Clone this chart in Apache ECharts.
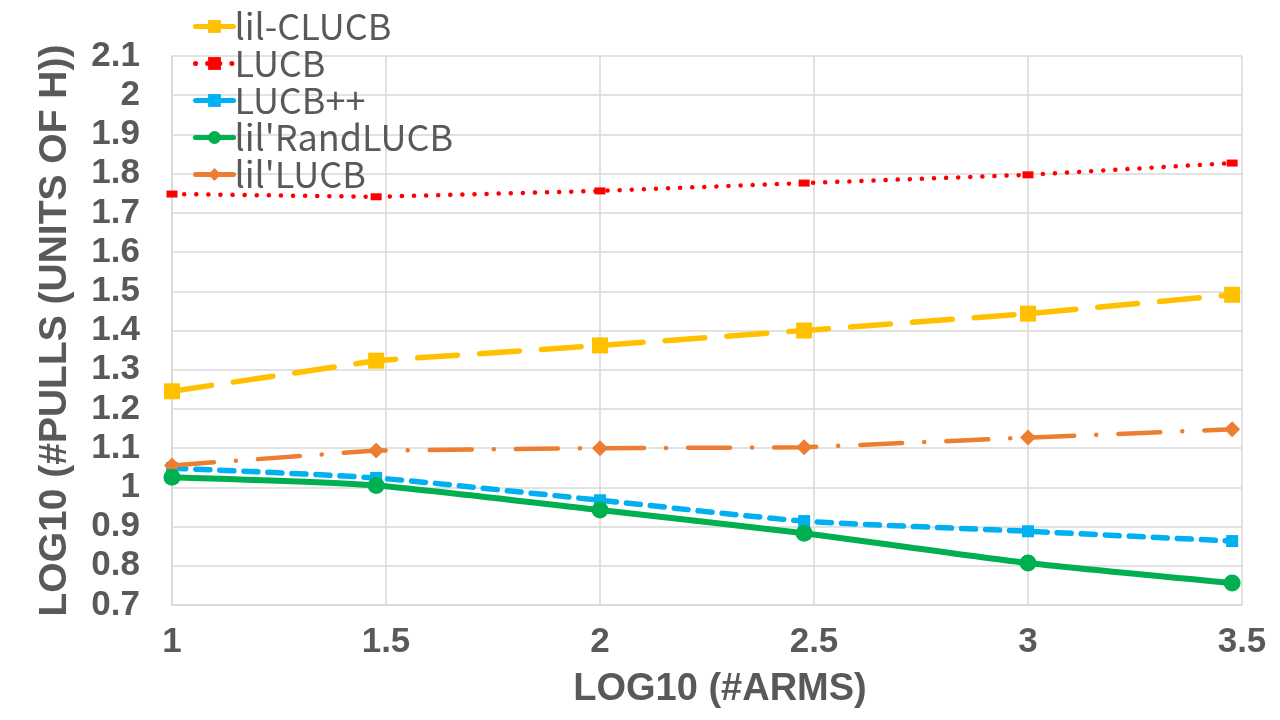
<!DOCTYPE html>
<html>
<head>
<meta charset="utf-8">
<script src="https://cdn.jsdelivr.net/npm/echarts@6/dist/echarts.min.js"></script>
<style>
	html, body { margin: 0; padding: 0; background: #fff; }
	#chart { width: 1280px; height: 720px; }
</style>
</head>
<body>
<div id="chart"></div>
<script>
	// log10 of the number of arms
	var armsLog = [1, 1.477, 2, 2.477, 3, 3.477];

	// log10 of pulls, one array per algorithm
	var lilCLUCB = [1.245, 1.323, 1.362, 1.400, 1.443, 1.491];
	var lucb = [1.748, 1.741, 1.756, 1.776, 1.797, 1.827];
	var lucbPP = [1.049, 1.024, 0.967, 0.914, 0.888, 0.863];
	var lilRandLUCB = [1.026, 1.005, 0.942, 0.883, 0.807, 0.756];
	var lilLUCB = [1.056, 1.094, 1.100, 1.102, 1.127, 1.148];

	var seriesNames = ['lil-CLUCB', 'LUCB', 'LUCB++', "lil'RandLUCB", "lil'LUCB"];

	function pairs(ys) {
		var out = [];
		for (var i = 0; i < armsLog.length; i++) {
			out.push([armsLog[i], ys[i]]);
		}
		return out;
	}

	var textColor = '#595959';
	var gridColor = '#d9d9d9';

	// legend entries: solid thick line, except the dotted LUCB
	var legendData = [];
	for (var k = 0; k < seriesNames.length; k++) {
		legendData.push({
			name: seriesNames[k],
			lineStyle: { width: 5, type: k == 1 ? [0.1, 12] : 'solid', cap: 'round' }
		});
	}

	var chart = echarts.init(document.getElementById('chart'));

	var option = {
		animation: false,
		grid: {
			left: 172,
			right: 38,
			top: 56,
			bottom: 115,
			outerBoundsMode: 'none'
		},
		legend: {
			orient: 'vertical',
			left: 188,
			top: 3,
			itemGap: 0,
			itemWidth: 38,
			itemHeight: 16,
			textStyle: {
				fontFamily: 'Noto Sans CJK SC',
				fontSize: 36,
				lineHeight: 37,
				color: textColor,
				padding: [0, 0, 0, -4]
			},
			data: legendData
		},
		xAxis: {
			type: 'value',
			min: 1,
			max: 3.5,
			interval: 0.5,
			name: 'LOG10 (#ARMS)',
			nameLocation: 'middle',
			nameGap: 66,
			nameTextStyle: {
				fontFamily: 'Liberation Sans',
				fontWeight: 'bold',
				fontSize: 38,
				color: textColor,
				padding: [0, 0, 0, 26]
			},
			axisLine: { show: true, lineStyle: { color: gridColor, width: 1.5 } },
			axisTick: { show: false },
			axisLabel: {
				margin: 20,
				fontFamily: 'Liberation Sans',
				fontWeight: 'bold',
				fontSize: 35,
				color: textColor
			},
			splitLine: { show: true, lineStyle: { color: gridColor, width: 1.5 } }
		},
		yAxis: {
			type: 'value',
			min: 0.7,
			max: 2.1,
			interval: 0.1,
			name: 'LOG10 (#PULLS (UNITS OF H))',
			nameLocation: 'middle',
			nameRotate: 90,
			nameGap: 97,
			nameTextStyle: {
				fontFamily: 'Liberation Sans',
				fontWeight: 'bold',
				fontSize: 39,
				color: textColor
			},
			axisLine: { show: true, lineStyle: { color: gridColor, width: 1.5 } },
			axisTick: { show: false },
			axisLabel: {
				margin: 32,
				fontFamily: 'Liberation Sans',
				fontWeight: 'bold',
				fontSize: 35,
				color: textColor,
				formatter: function (v) {
					return String(Math.round(v * 10) / 10);
				}
			},
			splitLine: { show: true, lineStyle: { color: gridColor, width: 1.5 } }
		},
		series: [{
			name: 'lil-CLUCB',
			type: 'line',
			data: pairs(lilCLUCB),
			symbol: 'rect',
			symbolSize: 16,
			itemStyle: { color: '#ffc000' },
			lineStyle: { color: '#ffc000', width: 5.5, type: [40, 22], cap: 'round' },
			z: 3
		}, {
			name: 'LUCB',
			type: 'line',
			data: pairs(lucb),
			symbol: 'rect',
			symbolSize: [11, 7],
			itemStyle: { color: '#ff0000' },
			lineStyle: { color: '#ff0000', width: 4.5, type: [0.1, 12], cap: 'round' },
			z: 3
		}, {
			name: 'LUCB++',
			type: 'line',
			data: pairs(lucbPP),
			smooth: 0.2,
			symbol: 'rect',
			symbolSize: 12,
			itemStyle: { color: '#00b0f0' },
			lineStyle: { color: '#00b0f0', width: 5.5, type: [14, 10], cap: 'round' },
			z: 3
		}, {
			name: "lil'RandLUCB",
			type: 'line',
			data: pairs(lilRandLUCB),
			smooth: 0.2,
			symbol: 'circle',
			symbolSize: 17,
			itemStyle: { color: '#00b050' },
			lineStyle: { color: '#00b050', width: 6 },
			z: 4
		}, {
			name: "lil'LUCB",
			type: 'line',
			data: pairs(lilLUCB),
			symbol: 'diamond',
			symbolSize: 16,
			itemStyle: { color: '#ed7d31' },
			lineStyle: { color: '#ed7d31', width: 4.5, type: [42, 22, 0.1, 22], cap: 'round' },
			z: 3
		}]
	};

	chart.setOption(option);

	window.onresize = function() {
		chart.resize();
	};
</script>
</body>
</html>
